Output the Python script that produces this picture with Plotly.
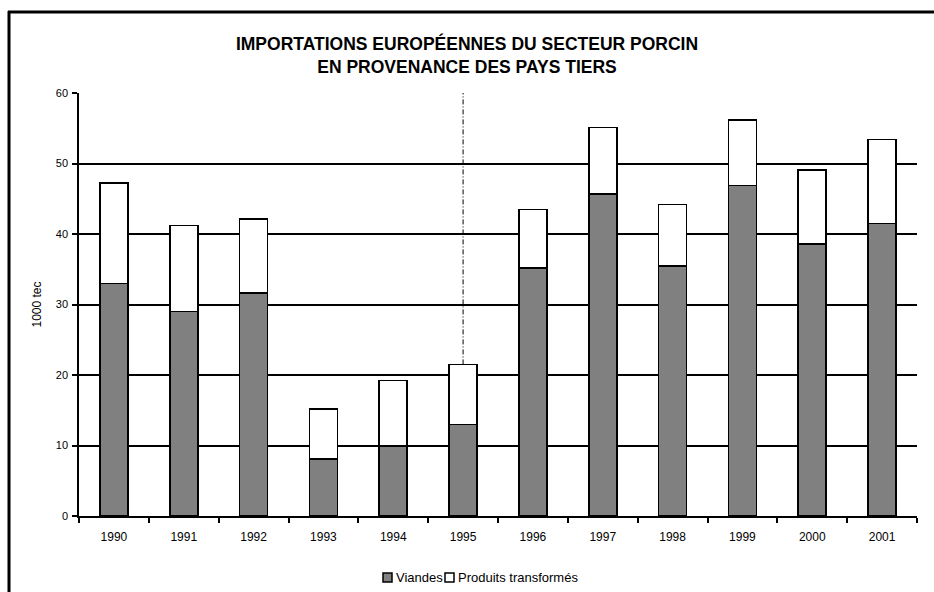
import plotly.graph_objects as go

years = ["1990", "1991", "1992", "1993", "1994", "1995", "1996", "1997", "1998", "1999", "2000", "2001"]
viandes = [33.0, 29.0, 31.6, 8.1, 9.9, 13.0, 35.2, 45.7, 35.5, 46.9, 38.6, 41.5]
totals = [47.2, 41.2, 42.1, 15.2, 19.2, 21.5, 43.5, 55.1, 44.2, 56.2, 49.1, 53.4]
produits = [round(t - v, 1) for t, v in zip(totals, viandes)]
series_names = ["Viandes", "Produits transformés"]
series_colors = ["#808080", "white"]
marker_year = "1995"
y_ticks = [0, 10, 20, 30, 40, 50, 60]

FONT = "Liberation Sans, Arial, sans-serif"

# plot-area geometry in pixels (used to place legend / frame in paper coords)
L, R, T, B, W, H = 79, 17, 93, 76, 934, 592
PW, PH = W - L - R, H - T - B


def px_x(px):
    return (px - L) / PW


def px_y(py):
    return (H - B - py) / PH


fig = go.Figure()
for name, vals, col in zip(series_names, [viandes, produits], series_colors):
    fig.add_trace(go.Bar(
        x=years, y=vals, name=name,
        marker=dict(color=col, line=dict(color="black", width=1.6)),
    ))
idx = years.index(marker_year)
fig.add_trace(go.Scatter(
    x=[marker_year, marker_year], y=[totals[idx], y_ticks[-1]],
    mode="lines", line=dict(color="black", width=1, dash="5px,2px,1px,2px"),
    showlegend=False, hoverinfo="skip",
))

fig.update_layout(
    width=W, height=H,
    barmode="stack", bargap=0.6,
    paper_bgcolor="white", plot_bgcolor="white",
    margin=dict(l=L, r=R, t=T, b=B, autoexpand=False),
    font=dict(family=FONT, color="black", size=11),
    title=dict(
        text="<b>IMPORTATIONS EUROPÉENNES DU SECTEUR PORCIN<br>EN PROVENANCE DES PAYS TIERS</b>",
        x=0.5, xanchor="center", y=1 - 50 / H, yanchor="top",
        font=dict(family=FONT, size=17.5, color="black"),
    ),
    showlegend=False,
)
fig.update_xaxes(
    type="category", showgrid=False, showline=True, linecolor="black", linewidth=1.5,
    ticks="outside", tickson="boundaries", ticklen=5, tickcolor="black", tickwidth=1.5,
    tickfont=dict(family=FONT, size=12, color="black"), zeroline=False,
    ticklabelstandoff=9,
)
fig.update_yaxes(
    range=[0, 60], tickvals=y_ticks, showgrid=True, gridcolor="black", gridwidth=1.5,
    showline=True, linecolor="black", linewidth=1.5,
    ticks="outside", ticklen=5, tickcolor="black", tickwidth=1.5,
    tickfont=dict(family=FONT, size=11, color="black"), zeroline=False,
    ticklabelstandoff=2,
    title=dict(text="1000 tec", font=dict(family=FONT, size=12, color="black"), standoff=12),
)

# compact legend: square swatch immediately followed by the series name
legend_items = [(383, 394), (445, 456)]
for (sx, tx), name, col in zip(legend_items, series_names, series_colors):
    fig.add_shape(
        type="rect", xref="paper", yref="paper",
        x0=px_x(sx), x1=px_x(sx + 9), y0=px_y(582), y1=px_y(573),
        line=dict(color="black", width=1.5), fillcolor=col,
    )
    fig.add_annotation(
        text=name, xref="paper", yref="paper", x=px_x(tx), y=px_y(577),
        xanchor="left", yanchor="middle", showarrow=False,
        font=dict(family=FONT, size=13, color="black"),
    )

# outer frame: top and left edges (the rest lies outside the picture)
fig.add_shape(type="line", xref="paper", yref="paper",
              x0=px_x(8), x1=px_x(W), y0=px_y(12), y1=px_y(12),
              line=dict(color="black", width=3))
fig.add_shape(type="line", xref="paper", yref="paper",
              x0=px_x(9), x1=px_x(9), y0=px_y(11), y1=px_y(H),
              line=dict(color="black", width=3))

fig.write_html(
    "out.html",
    config={"displayModeBar": False},
    post_script="document.body.style.margin='0';document.body.style.overflow='hidden';"
                "document.documentElement.style.overflow='hidden';",
)
